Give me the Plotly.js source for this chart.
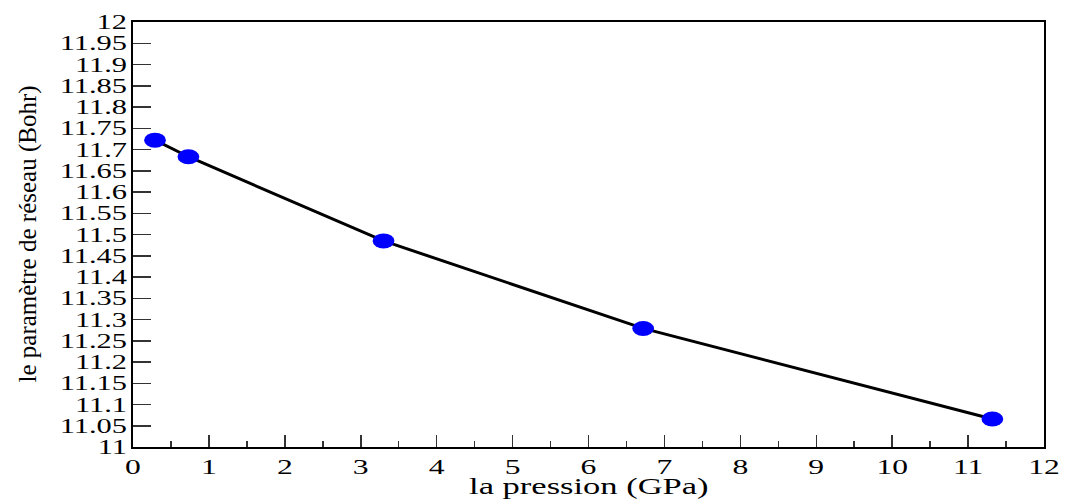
<!DOCTYPE html>
<html><head><meta charset="utf-8">
<script src="https://cdn.plot.ly/plotly-3.0.1.min.js"></script>
<style>
html,body{margin:0;padding:0;background:#fff}
#chart{width:1065px;height:500px}
</style></head><body><div id="chart"></div>
<script>
const pressure=[0.29,0.73,3.30,6.72,11.32];
const latticeParam=[11.722,11.683,11.485,11.279,11.066];
const yTickVals=[11,11.05,11.1,11.15,11.2,11.25,11.3,11.35,11.4,11.45,11.5,11.55,11.6,11.65,11.7,11.75,11.8,11.85,11.9,11.95,12];
const yTickText=['11','11.05','11.1','11.15','11.2','11.25','11.3','11.35','11.4','11.45','11.5','11.55','11.6','11.65','11.7','11.75','11.8','11.85','11.9','11.95','12'];
const xTitle='la pression (GPa)';
const yTitle='le paramètre de réseau (Bohr)';

const L=133,R=21,T=22,B=53,W=1065,H=500;
const pw=W-L-R, ph=H-T-B;
const serif='Liberation Serif, serif';

const trace={
  x:pressure,y:latticeParam,type:'scatter',mode:'lines+markers',
  line:{color:'#000',width:3},
  marker:{color:'#0000ff',size:15,line:{width:0}},
  cliponaxis:false,showlegend:false,hoverinfo:'none'
};
const layout={
  width:W,height:H,margin:{l:L,r:R,t:T,b:B,pad:0},
  paper_bgcolor:'#fff',plot_bgcolor:'#fff',showlegend:false,
  font:{family:serif,color:'#000'},
  xaxis:{range:[0,12],dtick:1,tick0:0,ticks:'inside',ticklen:12,tickwidth:1.5,tickcolor:'#333',
    minor:{dtick:0.5,ticks:'inside',ticklen:6,tickwidth:1.5,tickcolor:'#333',showgrid:false},
    showgrid:false,zeroline:false,showline:true,mirror:true,linecolor:'#000',linewidth:2,
    tickfont:{family:serif,size:21,color:'#000'},fixedrange:true},
  yaxis:{range:[11,12],tickmode:'array',tickvals:yTickVals,ticktext:yTickText,ticks:'inside',ticklen:18,tickwidth:1.5,tickcolor:'#333',
    showgrid:false,zeroline:false,showline:true,mirror:true,linecolor:'#000',linewidth:2,
    tickfont:{family:serif,size:20,color:'#000'},fixedrange:true},
  annotations:[
    {text:xTitle,xref:'paper',yref:'paper',x:(589-L)/pw,y:(447-501)/ph,xanchor:'center',yanchor:'bottom',showarrow:false,font:{family:serif,size:23,color:'#000'}},
    {text:yTitle,xref:'paper',yref:'paper',x:(27-L)/pw,y:0.5,xanchor:'center',yanchor:'middle',textangle:-90,showarrow:false,font:{family:serif,size:25,color:'#000'}}
  ]
};
function stretch(sel,f){
  document.querySelectorAll(sel).forEach(t=>{
    const len=t.getComputedTextLength();
    if(len>0){t.setAttribute('textLength',(len*f).toFixed(1));t.setAttribute('lengthAdjust','spacingAndGlyphs');}
  });
}
Plotly.newPlot('chart',[trace],layout,{displayModeBar:false,staticPlot:true}).then(()=>{
  document.querySelectorAll('.scatterlayer .points path').forEach(p=>{
    const t=p.getAttribute('transform')||'';
    p.setAttribute('transform',t+' scale(1.45,1)');
  });
  stretch('.ytick text',1.52);
  stretch('.xtick text',1.5);
  stretch('.annotation[data-index="0"] text',1.5);
});
</script></body></html>
